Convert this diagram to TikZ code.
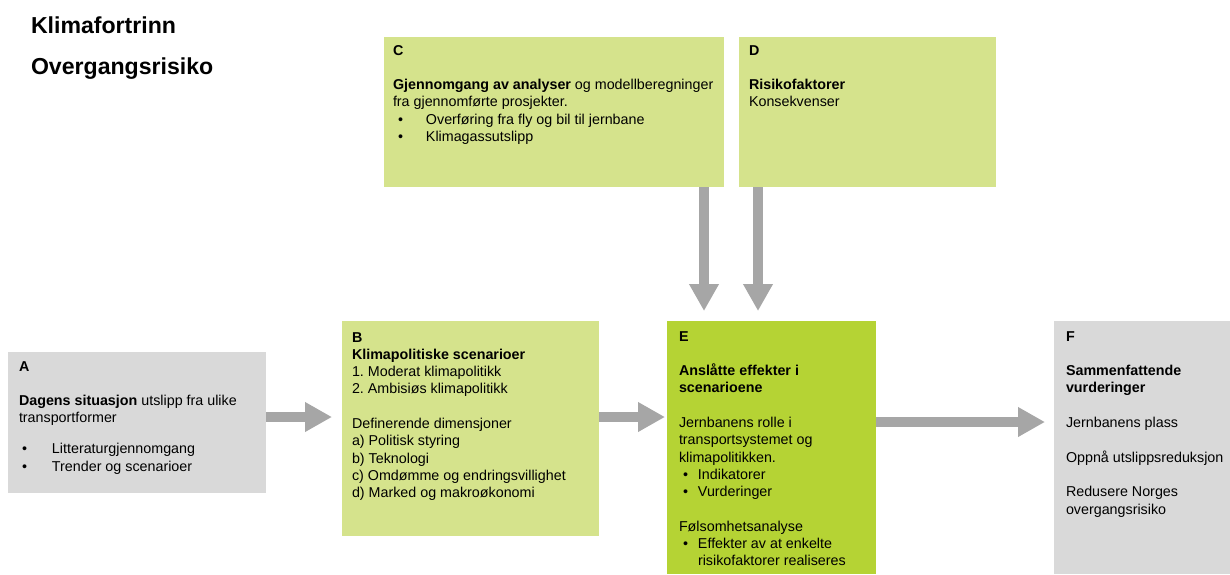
\documentclass[tikz,border=0pt]{standalone}
\usepackage{fontspec}
\setmainfont{Liberation Sans}
\usetikzlibrary{arrows.meta}
\frenchspacing
\definecolor{lgreen}{HTML}{D5E38C}
\definecolor{dgreen}{HTML}{B5D334}
\definecolor{lgrey}{HTML}{D9D9D9}
\definecolor{agrey}{HTML}{A6A6A6}
\newcommand{\bodyfont}{\fontsize{14.3}{17.3}\selectfont}
\newcommand{\gapline}{\\[17.3pt]}
\newcommand{\bul}[3]{\makebox[#2][l]{\hspace*{#1}\textbullet}#3}
\begin{document}
\begin{tikzpicture}[x=1pt,y=-1pt,
  panel/.style={rectangle,inner sep=0pt,outer sep=0pt,draw=none,anchor=north west},
  lpanel/.style={panel,fill=lgreen},
  dpanel/.style={panel,fill=dgreen},
  gpanel/.style={panel,fill=lgrey},
  txt/.style={inner sep=0pt,outer sep=0pt,anchor=base west,font=\bodyfont},
  title/.style={inner sep=0pt,outer sep=0pt,anchor=base west,font=\fontsize{23.1}{27}\selectfont\bfseries},
  bigarrow/.style={draw=agrey,line width=10pt,-{Triangle[length=27pt,width=28pt]}}
]
\useasboundingbox[fill=white] (0,0) rectangle (1230,574);

% titles
\node[title] (t1) at (31,33) {Klimafortrinn};
\node[title] (t2) at (31,74) {Overgangsrisiko};

% panels
\node[lpanel,minimum width=340pt,minimum height=150pt] (C) at (384,37) {};
\node[lpanel,minimum width=257pt,minimum height=150pt] (D) at (739,37) {};
\node[gpanel,minimum width=258pt,minimum height=141pt] (A) at (8,352) {};
\node[lpanel,minimum width=257pt,minimum height=215pt] (B) at (342,321) {};
\node[dpanel,minimum width=209pt,minimum height=253pt] (E) at (667,321) {};
\node[gpanel,minimum width=176pt,minimum height=253pt] (F) at (1054,321) {};

% panel texts
\node[txt] (Ct) at (393,55) {\parbox[t]{330pt}{\raggedright
  \textbf{C}\gapline
  \textbf{Gjennomgang av analyser} og modellberegninger\\
  fra gjennomførte prosjekter.\\
  \bul{5pt}{33pt}{Overføring fra fly og bil til jernbane}\\
  \bul{5pt}{33pt}{Klimagassutslipp}}};
\node[txt] (Dt) at (749,55) {\parbox[t]{240pt}{\raggedright
  \textbf{D}\gapline
  \textbf{Risikofaktorer}\\
  Konsekvenser}};
\node[txt] (At) at (19,371) {\parbox[t]{245pt}{\raggedright
  \textbf{A}\gapline
  \textbf{Dagens situasjon} utslipp fra ulike\\
  transportformer\\[13.5pt]
  \bul{3pt}{33pt}{Litteraturgjennomgang}\\
  \bul{3pt}{33pt}{Trender og scenarioer}}};
\node[txt] (Bt) at (352,342) {\parbox[t]{245pt}{\raggedright
  \textbf{B}\\
  \textbf{Klimapolitiske scenarioer}\\
  1. Moderat klimapolitikk\\
  2. Ambisiøs klimapolitikk\gapline
  Definerende dimensjoner\\
  a) Politisk styring\\
  b) Teknologi\\
  c) Omdømme og endringsvillighet\\
  d) Marked og makroøkonomi}};
\node[txt] (Et) at (679,341) {\parbox[t]{195pt}{\raggedright
  \textbf{E}\gapline
  \textbf{Anslåtte effekter i}\\
  \textbf{scenarioene}\gapline
  Jernbanens rolle i\\
  transportsystemet og\\
  klimapolitikken.\\
  \bul{4pt}{19pt}{Indikatorer}\\
  \bul{4pt}{19pt}{Vurderinger}\gapline
  Følsomhetsanalyse\\
  \bul{4pt}{19pt}{Effekter av at enkelte}\\
  \hspace*{19pt}risikofaktorer realiseres}};
\node[txt] (Ft) at (1066,341) {\parbox[t]{165pt}{\raggedright
  \textbf{F}\gapline
  \textbf{Sammenfattende}\\
  \textbf{vurderinger}\gapline
  Jernbanens plass\gapline
  Oppnå utslippsreduksjon\gapline
  Redusere Norges\\
  overgangsrisiko}};

% connectors
\draw[bigarrow,shorten >=10pt] (A.east |- 0,417) -- (B.west |- 0,417);
\draw[bigarrow,shorten >=2pt] (B.east |- 0,417) -- (E.west |- 0,417);
\draw[bigarrow,shorten >=9pt] (E.east |- 0,422) -- (F.west |- 0,422);
\draw[bigarrow,shorten >=10pt] (C.south -| 704,0) -- (E.north -| 704,0);
\draw[bigarrow,shorten >=10pt] (D.south -| 758,0) -- (E.north -| 758,0);
\end{tikzpicture}
\end{document}
